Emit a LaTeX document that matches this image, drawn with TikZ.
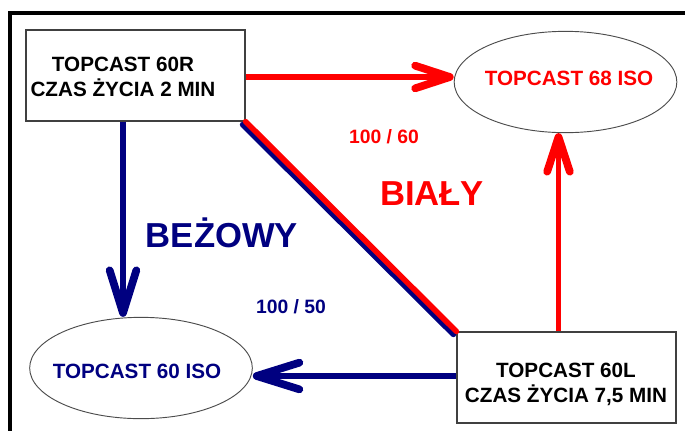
\documentclass[tikz,border=0pt]{standalone}
\usepackage{fontspec}
\setmainfont{Liberation Sans}
\usetikzlibrary{arrows.meta,shapes.geometric}
\definecolor{navyb}{RGB}{0,0,128}
\definecolor{redc}{RGB}{255,0,0}
\begin{document}
\begin{tikzpicture}[x=0.75pt,y=-0.75pt,
  boxnode/.style={draw=black!75,line width=0.9pt,minimum width=164.25pt,minimum height=68.25pt,inner sep=0pt},
  ellnode/.style={draw=black!70,line width=0.7pt,ellipse,minimum width=167pt,minimum height=76pt,inner sep=0pt},
  boxtext/.style={font=\bfseries\fontsize{15.5}{18.75}\selectfont,align=center,inner sep=0pt},
  elltext/.style={font=\bfseries\fontsize{15.5}{18.75}\selectfont,inner sep=0pt},
  smalllbl/.style={font=\bfseries\fontsize{14.5}{17}\selectfont,inner sep=0pt,anchor=base},
  biglbl/.style={font=\bfseries\fontsize{26}{30}\selectfont,inner sep=0pt,anchor=base},
  conn/.style={line width=4.2pt},
  redarr/.style={conn,draw=redc,-{Straight Barb[length=26pt,width=17pt,line width=5.8pt,round]}},
  navarr/.style={conn,draw=navyb,-{Straight Barb[length=32pt,width=20pt,line width=5.8pt,round]}}
]
\useasboundingbox (0,0) rectangle (685,430);
\draw[line width=2.6pt,line join=miter] (10,440) -- (10,13) -- (700,13);

\node[boxnode] (r60) at (135.5,75.5) {};
\node[boxtext] (r60t) at (123,76.4) {TOPCAST 60R\\CZAS ŻYCIA 2 MIN};
\node[boxnode] (l60) at (566.5,377.5) {};
\node[boxtext] (l60t) at (566,383.9) {TOPCAST 60L\\CZAS ŻYCIA 7,5 MIN};
\node[ellnode] (iso68) at (565.5,82) {};
\node[elltext,text=redc] (iso68t) at (569,78.5) {TOPCAST 68 ISO};
\node[ellnode] (iso60) at (141,368) {};
\node[elltext,text=navyb] (iso60t) at (137,371.5) {TOPCAST 60 ISO};

\coordinate (rh) at (0,77);
\coordinate (rv) at (558.5,0);
\coordinate (bv) at (123,0);
\coordinate (bh) at (0,376);

\draw[redarr] (r60.east |- rh) -- (iso68.west |- rh);
\draw[redarr] (l60.north -| rv) -- (iso68.south -| rv);
\draw[navarr] (r60.south -| bv) -- (iso60.north -| bv);
\draw[navarr] (l60.west |- bh) -- (iso60.east |- bh);

\draw[conn,draw=navyb,line cap=round] ([shift={(-3,3)}]r60.south east) -- ([shift={(-3,3)}]l60.north west);
\draw[conn,draw=redc,line cap=round] (r60.south east) -- (l60.north west);

\node[smalllbl,text=redc] (lab60) at (384,143) {100 / 60};
\node[biglbl,text=redc] (bialy) at (432,205) {BIAŁY};
\node[biglbl,text=navyb] (bezowy) at (222,247) {BEŻOWY};
\node[smalllbl,text=navyb] (lab50) at (291,313) {100 / 50};
\end{tikzpicture}
\end{document}
